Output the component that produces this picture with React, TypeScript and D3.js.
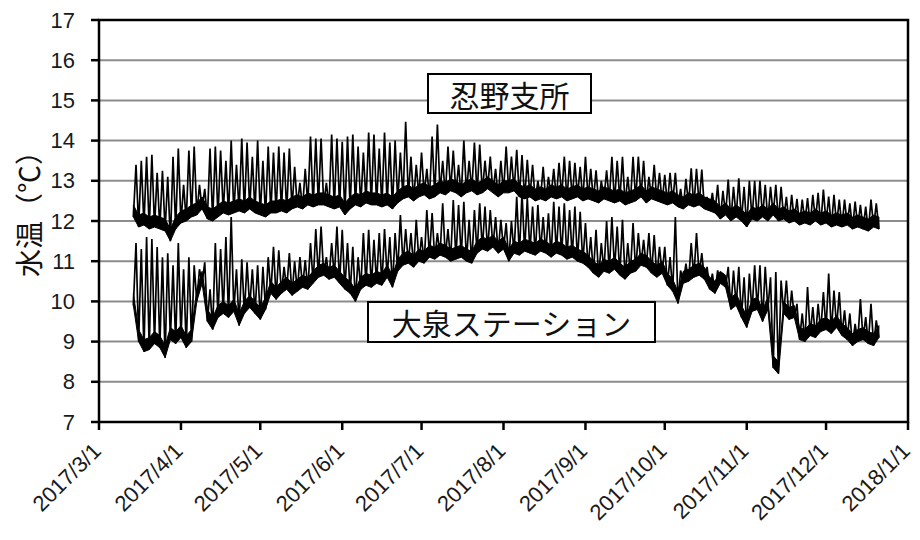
import React from "react";
import * as d3 from "d3";

const xTickLabels = ["2017/3/1", "2017/4/1", "2017/5/1", "2017/6/1", "2017/7/1", "2017/8/1", "2017/9/1", "2017/10/1", "2017/11/1", "2017/12/1", "2018/1/1"];
const yTicks = [7, 8, 9, 10, 11, 12, 13, 14, 15, 16, 17];
const yTitle = "水温（℃）";
const labelOshino = "忍野支所";
const labelOizumi = "大泉ステーション";
// first reading date; readings alternate daily low / high
const seriesStart = "2017-03-14";

const oshinoLow = [
  12.1, 11.85, 11.9, 11.8, 11.85, 11.8, 11.75, 11.5, 11.8, 11.95, 12.0, 12.1, 12.15, 12.3, 12.05, 12.0, 12.1, 12.2, 12.15, 12.2, 12.25, 12.2, 12.3, 12.2,
  12.15, 12.1, 12.2, 12.2, 12.25, 12.2, 12.3, 12.35, 12.3, 12.4, 12.35, 12.4, 12.4, 12.35, 12.3, 12.35, 12.15, 12.3, 12.4, 12.35, 12.45, 12.4, 12.4, 12.35,
  12.4, 12.3, 12.45, 12.55, 12.6, 12.5, 12.6, 12.65, 12.55, 12.6, 12.7, 12.65, 12.75, 12.7, 12.6, 12.7, 12.75, 12.65, 12.7, 12.8, 12.7, 12.6, 12.7,
  12.7, 12.75, 12.6, 12.55, 12.6, 12.5, 12.55, 12.5, 12.6, 12.55, 12.6, 12.5, 12.55, 12.6, 12.5, 12.55, 12.5, 12.45, 12.55, 12.5, 12.45, 12.5, 12.4, 12.45,
  12.5, 12.6, 12.45, 12.55, 12.5, 12.45, 12.4, 12.45, 12.35, 12.3, 12.4, 12.35, 12.4, 12.3, 12.25, 12.2, 12.05, 12.15, 12.0, 12.1, 12.0, 11.85, 12.05, 12.0,
  12.1, 12.0, 12.15, 12.0, 12.05, 11.95, 12.0, 11.9, 11.95, 11.9, 12.0, 11.9, 11.95, 11.85, 11.9, 11.85, 11.9, 11.8, 11.85, 11.8, 11.75, 11.85, 11.8,
];
const oshinoHigh = [
  13.4, 13.5, 13.6, 13.65, 13.2, 13.25, 13.1, 13.6, 13.8, 12.9, 13.75, 13.85, 12.9, 12.8, 13.8, 13.85, 13.75, 13.5, 14.0, 13.4, 14.05, 13.95, 13.6, 14.0,
  13.5, 13.85, 13.7, 13.85, 13.7, 13.8, 13.35, 12.95, 13.3, 14.1, 14.05, 14.05, 12.95, 14.15, 14.05, 13.97, 14.1, 14.15, 13.85, 13.7, 14.2, 14.15, 13.8,
  14.2, 13.95, 14.0, 13.7, 14.47, 13.6, 13.4, 13.7, 13.3, 14.1, 14.4, 13.5, 13.85, 13.75, 13.4, 14.0, 13.5, 13.95, 13.9, 13.5, 13.6, 13.3, 13.5, 13.85,
  13.6, 13.77, 13.64, 13.52, 13.4, 13.0, 13.35, 13.1, 13.3, 13.45, 13.6, 13.5, 13.45, 13.35, 13.6, 13.3, 13.26, 13.0, 13.26, 13.6, 13.5, 13.6, 13.1, 13.6,
  13.6, 13.5, 13.1, 13.4, 13.2, 13.15, 13.2, 13.2, 12.8, 13.05, 13.31, 13.3, 13.28, 12.6, 12.7, 12.9, 12.75, 13.03, 12.85, 13.06, 12.85, 13.0, 13.0,
  13.0, 12.9, 12.85, 12.9, 12.85, 12.6, 12.65, 12.55, 12.53, 12.57, 12.65, 12.7, 12.78, 12.61, 12.65, 12.53, 12.53, 12.44, 12.48, 12.4, 12.36, 12.53, 12.44,
];
const oizumiLow = [
  9.9, 9.0, 8.75, 8.8, 8.95, 8.85, 8.6, 9.05, 8.95, 9.1, 8.85, 9.0, 10.0, 10.45, 9.5, 9.3, 9.6, 9.7, 9.6, 9.75, 9.4, 9.7, 9.85, 9.7,
  9.55, 9.8, 10.2, 10.05, 10.2, 10.3, 10.15, 10.25, 10.35, 10.3, 10.45, 10.6, 10.65, 10.55, 10.6, 10.45, 10.3, 10.2, 10.0, 10.3, 10.4, 10.35, 10.45, 10.4,
  10.6, 10.35, 10.75, 10.9, 10.95, 10.85, 11.0, 10.95, 11.1, 11.05, 11.15, 11.1, 11.0, 11.05, 11.1, 11.0, 10.95, 11.2, 11.3, 11.25, 11.35, 11.2, 11.3,
  11.0, 11.2, 11.15, 11.25, 11.2, 11.15, 11.25, 11.2, 11.1, 11.2, 11.15, 11.05, 11.1, 11.0, 10.95, 10.85, 10.7, 10.6, 10.75, 10.7, 10.8, 10.65, 10.55, 10.7,
  10.75, 10.9, 10.85, 10.7, 10.6, 10.7, 10.4, 10.25, 9.95, 10.45, 10.5, 10.6, 10.65, 10.55, 10.3, 10.2, 10.45, 10.35, 9.8, 9.9, 9.6, 9.35, 9.75, 9.8,
  9.5, 9.8, 8.35, 8.2, 9.7, 9.55, 9.6, 9.05, 9.0, 9.15, 9.1, 9.25, 9.3, 9.2, 9.35, 9.15, 9.05, 8.9, 9.0, 9.05, 8.95, 8.9, 9.1,
];
const oizumiHigh = [
  11.45, 11.3, 11.6, 11.55, 11.35, 11.1, 11.2, 10.9, 11.45, 10.8, 11.1, 10.9, 10.8, 10.97, 10.3, 11.45, 11.3, 11.6, 12.1, 10.8, 11.05, 10.97, 10.8, 10.9,
  10.86, 11.1, 11.36, 11.27, 10.86, 11.2, 11.0, 11.1, 11.03, 11.45, 11.8, 11.86, 11.1, 11.45, 11.86, 11.78, 11.45, 11.36, 11.1, 11.7, 11.78, 11.53, 11.7,
  11.8, 11.6, 11.7, 12.15, 11.8, 11.7, 12.03, 11.6, 12.27, 12.2, 11.7, 12.44, 11.8, 12.52, 12.4, 12.48, 12.03, 12.27, 12.44, 12.36, 12.27, 12.1, 12.03, 11.95,
  12.0, 12.6, 12.7, 12.57, 12.36, 12.4, 12.1, 12.19, 12.48, 12.36, 12.44, 12.27, 12.36, 12.23, 11.95, 11.6, 11.78, 11.45, 12.0, 12.1, 11.86, 12.03, 11.45, 11.95,
  11.7, 11.53, 11.7, 11.65, 11.36, 11.36, 11.1, 12.1, 10.77, 10.94, 11.45, 11.7, 11.2, 10.86, 10.69, 10.77, 10.69, 10.86, 10.77, 10.86, 10.6, 10.69, 10.9,
  10.9, 10.86, 10.6, 10.73, 10.52, 10.52, 10.27, 9.94, 9.7, 10.36, 9.86, 9.94, 10.23, 10.69, 10.27, 10.23, 9.78, 9.7, 9.44, 10.06, 9.61, 9.94, 9.53,
];

type Pt = { t: Date; v: number };
const DAY = 864e5;

function parseLabel(s: string): Date {
  const [y, m, d] = s.split("/").map(Number);
  return new Date(Date.UTC(y, m - 1, d));
}

function interleave(low: number[], high: number[]): Pt[] {
  const t0 = Date.parse(seriesStart + "T00:00:00Z");
  const pts: Pt[] = [];
  for (let i = 0; i < low.length; i++) {
    pts.push({ t: new Date(t0 + 2 * i * DAY), v: low[i] });
    if (i < high.length) pts.push({ t: new Date(t0 + (2 * i + 1) * DAY), v: high[i] });
  }
  return pts;
}

function lows(low: number[]): Pt[] {
  const t0 = Date.parse(seriesStart + "T00:00:00Z");
  return low.map((v, i) => ({ t: new Date(t0 + 2 * i * DAY), v }));
}

const W = 920;
const H = 540;
const M = { left: 99, right: 12, top: 20, bottom: 118 };
const BAND_PX = 12; // visual thickness of the dense trace near the daily lows

export default function App() {
  const tickDates = xTickLabels.map(parseLabel);
  const x = d3
    .scaleUtc()
    .domain([tickDates[0], tickDates[tickDates.length - 1]])
    .range([M.left, W - M.right]);
  const y = d3
    .scaleLinear()
    .domain([yTicks[0], yTicks[yTicks.length - 1]])
    .range([H - M.bottom, M.top]);

  const line = d3
    .line<Pt>()
    .x((d) => x(d.t))
    .y((d) => y(d.v));
  const band = d3
    .area<Pt>()
    .x((d) => x(d.t))
    .y0((d) => y(d.v))
    .y1((d) => y(d.v) - BAND_PX);

  const oshino = interleave(oshinoLow, oshinoHigh);
  const oizumi = interleave(oizumiLow, oizumiHigh);

  const x0 = M.left;
  const x1 = W - M.right;
  const yb = H - M.bottom;
  const font = "'Liberation Sans', Arial, sans-serif";
  const cjk = "'Noto Sans CJK JP', 'Noto Sans', sans-serif";

  return (
    <svg width={W} height={H} style={{ position: "absolute", left: 0, top: 0, background: "#fff" }}>
      <rect x={0} y={0} width={W} height={H} fill="#fff" />
      {yTicks.slice(1, -1).map((t) => (
        <line key={"g" + t} x1={x0} x2={x1} y1={y(t)} y2={y(t)} stroke="#8c8c8c" strokeWidth={2} />
      ))}
      <path d={band(lows(oizumiLow)) || ""} fill="#000" stroke="#000" strokeWidth={1} />
      <path d={band(lows(oshinoLow)) || ""} fill="#000" stroke="#000" strokeWidth={1} />
      <path d={line(oizumi) || ""} fill="none" stroke="#000" strokeWidth={1.7} strokeLinejoin="miter" />
      <path d={line(oshino) || ""} fill="none" stroke="#000" strokeWidth={1.7} strokeLinejoin="miter" />
      <rect x={x0} y={M.top} width={x1 - x0} height={yb - M.top} fill="none" stroke="#000" strokeWidth={2.5} />
      {yTicks.map((t) => (
        <g key={"y" + t}>
          <line x1={x0 - 8} x2={x0} y1={y(t)} y2={y(t)} stroke="#000" strokeWidth={2.5} />
          <text x={x0 - 24} y={y(t)} textAnchor="end" dominantBaseline="central" fontFamily={font} fontSize={22} fill="#1a1a1a">
            {t}
          </text>
        </g>
      ))}
      {tickDates.map((d, i) => (
        <g key={"x" + i}>
          <line x1={x(d)} x2={x(d)} y1={yb} y2={yb + 8} stroke="#000" strokeWidth={2.5} />
          <text
            transform={`translate(${x(d) - 2},${yb + 25}) rotate(-45)`}
            textAnchor="end"
            dominantBaseline="central"
            fontFamily={font}
            fontSize={22}
            fill="#1a1a1a"
          >
            {xTickLabels[i]}
          </text>
        </g>
      ))}
      <text
        transform={`translate(28,${(y(13) + y(12)) / 2 + 6}) rotate(-90)`}
        textAnchor="middle"
        dominantBaseline="central"
        fontFamily={cjk}
        fontSize={28}
        fill="#111"
      >
        {yTitle}
      </text>
      <g>
        <rect x={428} y={74} width={163} height={39} fill="#fff" stroke="#000" strokeWidth={2} />
        <text x={509.5} y={94} textAnchor="middle" dominantBaseline="central" fontFamily={cjk} fontSize={30} fill="#111">
          {labelOshino}
        </text>
      </g>
      <g>
        <rect x={368} y={302} width={287} height={40} fill="#fff" stroke="#000" strokeWidth={2} />
        <text x={511.5} y={322} textAnchor="middle" dominantBaseline="central" fontFamily={cjk} fontSize={30} fill="#111">
          {labelOizumi}
        </text>
      </g>
    </svg>
  );
}
